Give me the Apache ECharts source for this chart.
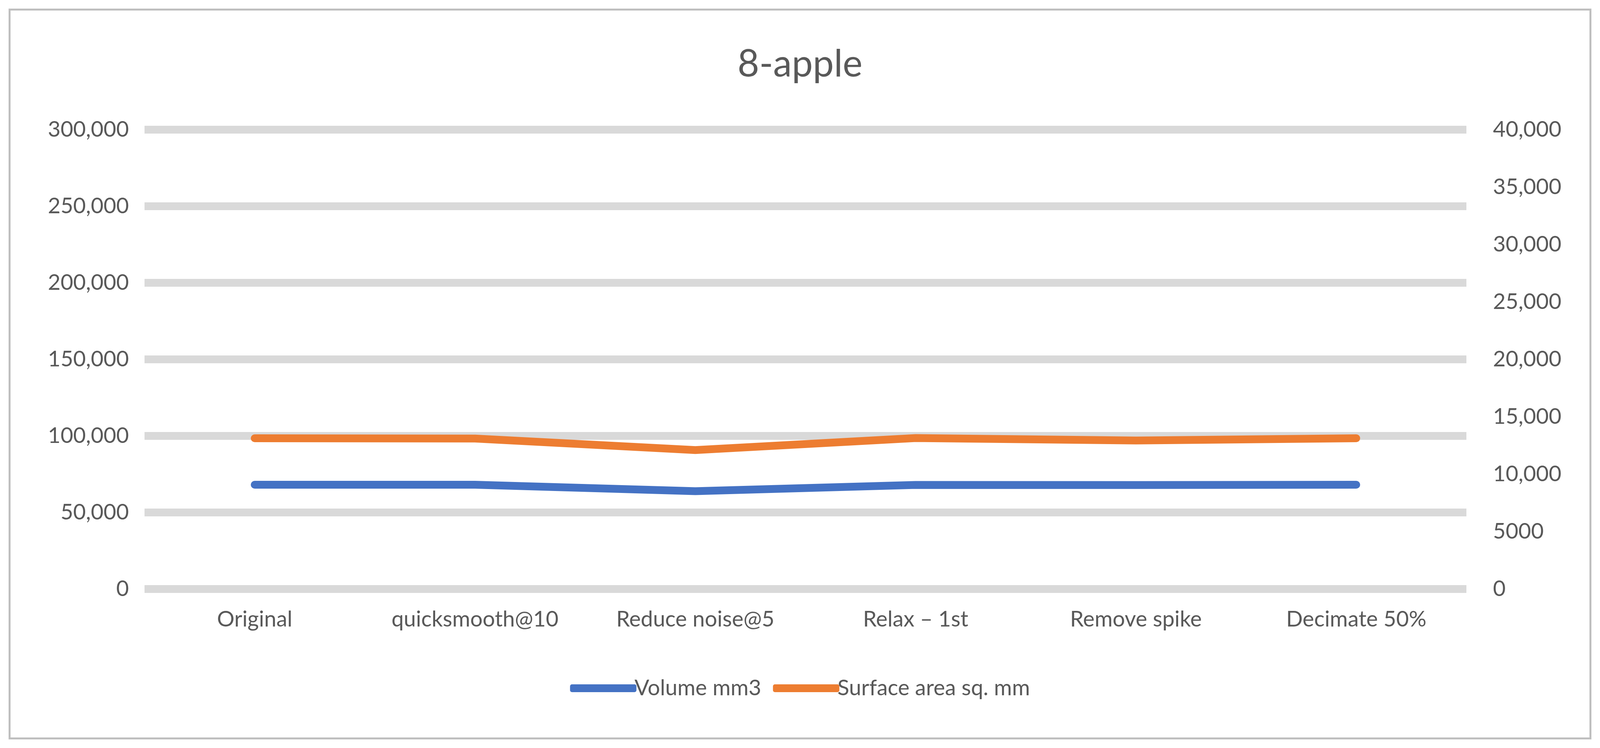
<!DOCTYPE html>
<html>
<head>
<meta charset="UTF-8">
<title>8-apple</title>
<script src="https://cdn.jsdelivr.net/npm/echarts@6/dist/echarts.min.js"></script>
<style>
html, body { margin: 0; padding: 0; background: #fff; width: 100%; height: 100%; overflow: hidden; }
#main { position: absolute; left: 0; top: 0; width: 100%; height: 100%; }
#frame { position: absolute; left: 22px; top: 22px; right: 22px; bottom: 22px; border: 5px solid #bfbfbf; }
</style>
</head>
<body>
<div id="frame"></div>
<div id="main"></div>
<script>
// data
var categories = ['Original', 'quicksmooth@10', 'Reduce noise@5', 'Relax \u2013 1st', 'Remove spike', 'Decimate 50%'];
var volume = [68100, 68100, 63900, 68000, 67900, 68100];
var surface = [13130, 13100, 12100, 13150, 12930, 13130];

var font = 'Lato';
var myChart = echarts.init(document.getElementById('main'));
var option = {
    backgroundColor: 'transparent',
    textStyle: { fontFamily: font },
    title: {
        text: '8-apple',
        left: 'center',
        top: 112,
        textStyle: { fontSize: 96, fontWeight: 'normal', color: '#595959', fontFamily: font }
    },
    legend: {
        data: ['Volume mm3', 'Surface area sq. mm'],
        bottom: 120,
        left: 'center',
        itemWidth: 170,
        itemHeight: 20,
        itemGap: 30,
        icon: 'roundRect',
        textStyle: { fontSize: 56, color: '#595959', padding: [0, 0, 0, -10] }
    },
    grid: { left: 370, right: 342, top: 332, bottom: 407 },
    xAxis: {
        type: 'category',
        data: categories,
        axisLine: { show: false },
        axisTick: { show: false },
        axisLabel: { fontSize: 56, color: '#595959', margin: 50 }
    },
    yAxis: [{
        type: 'value',
        min: 0, max: 300000, interval: 50000,
        axisLine: { show: false },
        axisTick: { show: false },
        splitLine: { lineStyle: { color: '#d9d9d9', width: 20 } },
        axisLabel: {
            fontSize: 56, color: '#595959', margin: 40,
            formatter: function (v) { return v.toLocaleString('en-US'); }
        }
    }, {
        type: 'value',
        min: 0, max: 40000, interval: 5000,
        axisLine: { show: false },
        axisTick: { show: false },
        splitLine: { show: false },
        axisLabel: {
            fontSize: 56, color: '#595959', margin: 68,
            formatter: function (v) { return v >= 10000 ? v.toLocaleString('en-US') : String(v); }
        }
    }],
    series: [{
        name: 'Volume mm3',
        type: 'line',
        data: volume,
        yAxisIndex: 0,
        symbol: 'none',
        color: '#4472c4',
        lineStyle: { width: 20, cap: 'round', join: 'round' }
    }, {
        name: 'Surface area sq. mm',
        type: 'line',
        data: surface,
        yAxisIndex: 1,
        symbol: 'none',
        color: '#ed7d31',
        lineStyle: { width: 20, cap: 'round', join: 'round' }
    }]
};
myChart.setOption(option);
</script>
</body>
</html>
